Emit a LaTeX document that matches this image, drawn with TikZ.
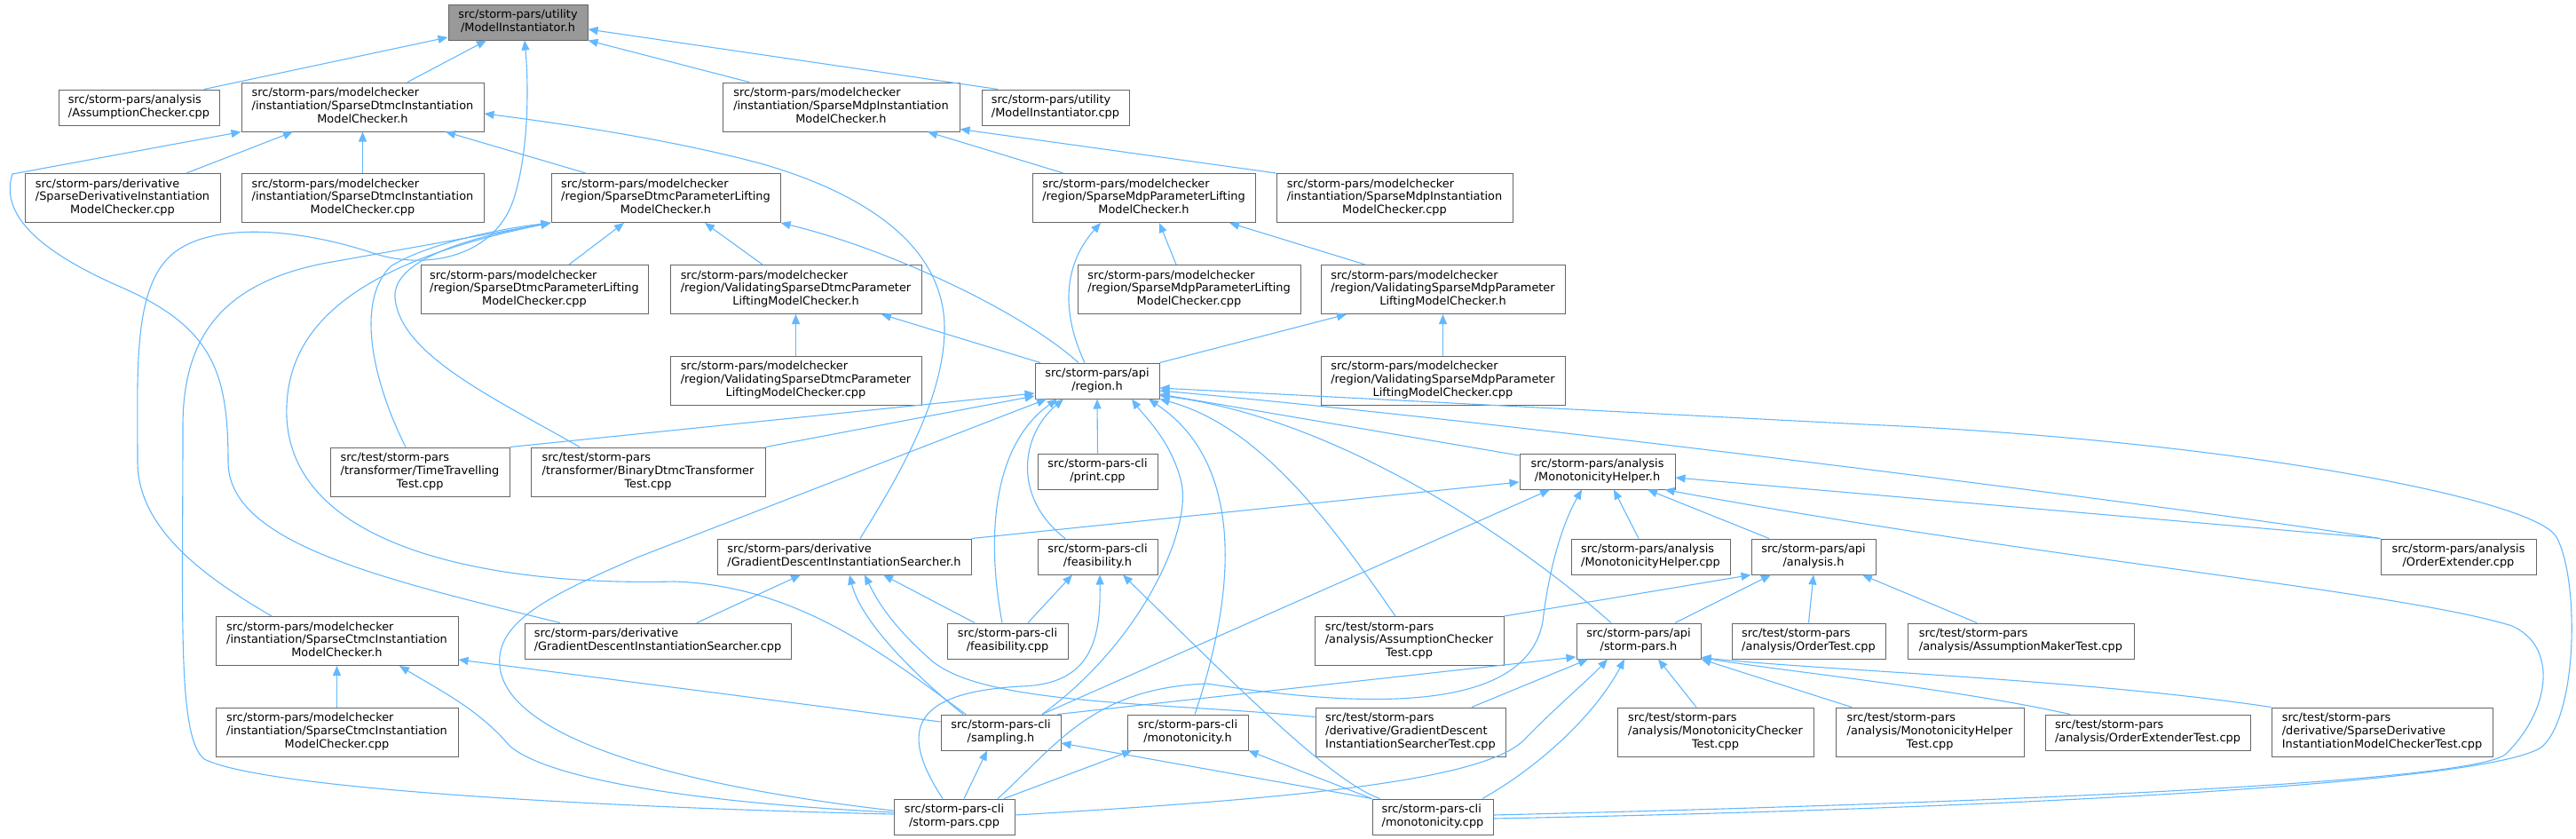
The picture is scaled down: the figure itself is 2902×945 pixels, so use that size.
\documentclass[tikz,border=0pt]{standalone}
\usepackage{fontspec}
\setmainfont{DejaVu Sans}
\usetikzlibrary{arrows.meta}
\definecolor{edgeblue}{RGB}{99,184,255}
\definecolor{boxgray}{RGB}{102,102,102}
\definecolor{rootgray}{RGB}{153,153,153}
% first lines left, last line centred
\newcommand{\flbl}[2]{\begin{tabular}{@{}l@{}}#1\\\multicolumn{1}{@{}c@{}}{#2}\end{tabular}}

\begin{document}
\begin{tikzpicture}[x=1pt, y=-1pt,
		file/.style={draw=boxgray, fill=white, line width=1pt, inner sep=0pt, minimum height=40},
		tall/.style={file, minimum height=55},
		root/.style={file, fill=rootgray},
		incl/.style={draw=edgeblue, line width=1.1pt, ->},
		>={Triangle[length=11pt,width=9pt]},   %Pfeilspitzen
		font=\fontsize{12.9}{14.6}\selectfont]
	\useasboundingbox (0,0) rectangle (2902,945);
	% Dateien
	\node[root, minimum width=157] (MI) at (583.5,25) {\flbl{src/storm-pars/utility}{/ModelInstantiator.h}};
	\node[file, minimum width=181] (ACcpp) at (156.5,121) {\flbl{src/storm-pars/analysis}{/AssumptionChecker.cpp}};
	\node[tall, minimum width=273] (SDI) at (408.5,120.5) {\flbl{src/storm-pars/modelchecker\\/instantiation/SparseDtmcInstantiation}{ModelChecker.h}};
	\node[tall, minimum width=267] (SMI) at (947.5,120.5) {\flbl{src/storm-pars/modelchecker\\/instantiation/SparseMdpInstantiation}{ModelChecker.h}};
	\node[file, minimum width=166] (MIcpp) at (1189,121) {\flbl{src/storm-pars/utility}{/ModelInstantiator.cpp}};
	\node[tall, minimum width=220] (SDcpp) at (138,223) {\flbl{src/storm-pars/derivative\\/SparseDerivativeInstantiation}{ModelChecker.cpp}};
	\node[tall, minimum width=273] (SDIcpp) at (408.5,223) {\flbl{src/storm-pars/modelchecker\\/instantiation/SparseDtmcInstantiation}{ModelChecker.cpp}};
	\node[tall, minimum width=258] (SDPL) at (750,223) {\flbl{src/storm-pars/modelchecker\\/region/SparseDtmcParameterLifting}{ModelChecker.h}};
	\node[tall, minimum width=251] (SMPL) at (1288.5,223) {\flbl{src/storm-pars/modelchecker\\/region/SparseMdpParameterLifting}{ModelChecker.h}};
	\node[tall, minimum width=266] (SMIcpp) at (1571,223) {\flbl{src/storm-pars/modelchecker\\/instantiation/SparseMdpInstantiation}{ModelChecker.cpp}};
	\node[tall, minimum width=256] (SDPLcpp) at (602,326) {\flbl{src/storm-pars/modelchecker\\/region/SparseDtmcParameterLifting}{ModelChecker.cpp}};
	\node[tall, minimum width=283] (VSD) at (896.5,326) {\flbl{src/storm-pars/modelchecker\\/region/ValidatingSparseDtmcParameter}{LiftingModelChecker.h}};
	\node[tall, minimum width=251] (SMPLcpp) at (1339.5,326) {\flbl{src/storm-pars/modelchecker\\/region/SparseMdpParameterLifting}{ModelChecker.cpp}};
	\node[tall, minimum width=275] (VSM) at (1625.5,326) {\flbl{src/storm-pars/modelchecker\\/region/ValidatingSparseMdpParameter}{LiftingModelChecker.h}};
	\node[tall, minimum width=283] (VSDcpp) at (896.5,428.5) {\flbl{src/storm-pars/modelchecker\\/region/ValidatingSparseDtmcParameter}{LiftingModelChecker.cpp}};
	\node[file, minimum width=140] (region) at (1236,429) {\flbl{src/storm-pars/api}{/region.h}};
	\node[tall, minimum width=275] (VSMcpp) at (1625.5,428.5) {\flbl{src/storm-pars/modelchecker\\/region/ValidatingSparseMdpParameter}{LiftingModelChecker.cpp}};
	\node[tall, minimum width=202] (TTT) at (473,531.5) {\flbl{src/test/storm-pars\\/transformer/TimeTravelling}{Test.cpp}};
	\node[tall, minimum width=264] (BDT) at (730,531.5) {\flbl{src/test/storm-pars\\/transformer/BinaryDtmcTransformer}{Test.cpp}};
	\node[file, minimum width=135] (print) at (1236.5,531) {\flbl{src/storm-pars-cli}{/print.cpp}};
	\node[file, minimum width=175] (MH) at (1799.5,531) {\flbl{src/storm-pars/analysis}{/MonotonicityHelper.h}};
	\node[file, minimum width=286] (GDS) at (951,627) {\flbl{src/storm-pars/derivative}{/GradientDescentInstantiationSearcher.h}};
	\node[file, minimum width=135] (feas) at (1236.5,627) {\flbl{src/storm-pars-cli}{/feasibility.h}};
	\node[file, minimum width=179] (MHcpp) at (1859.5,627) {\flbl{src/storm-pars/analysis}{/MonotonicityHelper.cpp}};
	\node[file, minimum width=140] (analysis) at (2043,627) {\flbl{src/storm-pars/api}{/analysis.h}};
	\node[file, minimum width=175] (OE) at (2769.5,627) {\flbl{src/storm-pars/analysis}{/OrderExtender.cpp}};
	\node[tall, minimum width=273] (SCI) at (379.5,722) {\flbl{src/storm-pars/modelchecker\\/instantiation/SparseCtmcInstantiation}{ModelChecker.h}};
	\node[file, minimum width=300] (GDScpp) at (741,722) {\flbl{src/storm-pars/derivative}{/GradientDescentInstantiationSearcher.cpp}};
	\node[file, minimum width=136] (feascpp) at (1135,722) {\flbl{src/storm-pars-cli}{/feasibility.cpp}};
	\node[tall, minimum width=213] (ACT) at (1587.5,722) {\flbl{src/test/storm-pars\\/analysis/AssumptionChecker}{Test.cpp}};
	\node[file, minimum width=140] (sp) at (1846,722) {\flbl{src/storm-pars/api}{/storm-pars.h}};
	\node[file, minimum width=173] (OT) at (2037.5,722) {\flbl{src/test/storm-pars}{/analysis/OrderTest.cpp}};
	\node[file, minimum width=255] (AMT) at (2276.5,722) {\flbl{src/test/storm-pars}{/analysis/AssumptionMakerTest.cpp}};
	\node[tall, minimum width=273] (SCIcpp) at (379.5,824.5) {\flbl{src/storm-pars/modelchecker\\/instantiation/SparseCtmcInstantiation}{ModelChecker.cpp}};
	\node[file, minimum width=135] (sampling) at (1127.5,825) {\flbl{src/storm-pars-cli}{/sampling.h}};
	\node[file, minimum width=136] (monoh) at (1338,825) {\flbl{src/storm-pars-cli}{/monotonicity.h}};
	\node[tall, minimum width=214] (GDST) at (1589,824.5) {\flbl{src/test/storm-pars\\/derivative/GradientDescent}{InstantiationSearcherTest.cpp}};
	\node[tall, minimum width=221] (MCT) at (1932.5,824.5) {\flbl{src/test/storm-pars\\/analysis/MonotonicityChecker}{Test.cpp}};
	\node[tall, minimum width=212] (MHT) at (2174,824.5) {\flbl{src/test/storm-pars\\/analysis/MonotonicityHelper}{Test.cpp}};
	\node[file, minimum width=231] (OET) at (2419.5,825) {\flbl{src/test/storm-pars}{/analysis/OrderExtenderTest.cpp}};
	\node[tall, minimum width=249] (SDT) at (2683.5,824.5) {\flbl{src/test/storm-pars\\/derivative/SparseDerivative}{InstantiationModelCheckerTest.cpp}};
	\node[file, minimum width=136] (spcpp) at (1075,920) {\flbl{src/storm-pars-cli}{/storm-pars.cpp}};
	\node[file, minimum width=136] (monocpp) at (1614,920) {\flbl{src/storm-pars-cli}{/monotonicity.cpp}};
	% gerade Kanten
	\foreach \s/\sx/\sy/\t/\tx/\ty in {
		ACcpp.north/73.5/0/MI.west/0/17, SDI.north/50.5/0/MI.south/-35.5/0,
		SMI.north/-103.5/0/MI.south east/0/0, MIcpp.north/-65/0/MI.east/0/8,
		SDcpp.north/72/0/SDI.south/-78.5/0, SDIcpp.north/0/0/SDI.south/0/0,
		SDPL.north/-90/0/SDI.south/93.5/0, SMPL.north/-90.5/0/SMI.south/97.5/0,
		SMIcpp.north west/0/0/SMI.south east/0/-3, SDPLcpp.north/39/0/SDPL.south/-47/0,
		VSD.north/-37.5/0/SDPL.south/44/0, VSDcpp.north/0/0/VSD.south/0/0,
		region.north/-64/0/VSD.south/96.5/0, SMPLcpp.north/-14.5/0/SMPL.south/17.5/0,
		VSM.north/-87.5/0/SMPL.south/96.5/0, VSMcpp.north/0/0/VSM.south/0/0,
		region.north east/0/0/VSM.south/-108.5/0, TTT.north east/0/0/region.west/0/14,
		BDT.north east/0/0/region.west/0/17, print.north/0/0/region.south/0/0,
		MH.west/0/-18/region.east/0/15, GDS.north east/0/0/MH.west/0/12,
		sampling.north/46.5/0/MH.south/-53.5/0, MHcpp.north/-13.5/0/MH.south/18.5/0,
		analysis.north/-50/0/MH.south/56.5/0, OE.north west/0/0/MH.east/0/7,
		GDScpp.north/44/0/GDS.south/-49/0, feascpp.north/-37/0/GDS.south/44/0,
		feascpp.north/23/0/feas.south/-28.5/0, spcpp.north/11/0/sampling.south/-15.5/0,
		monocpp.north west/0/0/sampling.east/0/12, sampling.west/0/-12/SCI.east/0/21,
		spcpp.north/56/0/monoh.south/-63/0, monocpp.north west/0/0/monoh.south east/0/0,
		SCIcpp.north/0/0/SCI.south/0/0, sampling.north east/-4/0/sp.west/0/18,
		GDST.north/69/0/sp.south/-57/0, MCT.north/-21.5/0/sp.south/22/0,
		MHT.north/-88/0/sp.south east/0/0, ACT.north east/0/0/analysis.south west/0/0,
		sp.north/41/0/analysis.south/-48/0, OT.north/0/0/analysis.south/0/0,
		AMT.north/-49.5/0/analysis.south/55/0}
		\draw[incl] ([shift={(\sx,\sy)}]\s) -- ([shift={(\tx,\ty)}]\t);
	% gebogene Kanten
	\draw[incl] ([xshift=-73.5]SCI.north) .. controls (240,655) and (155,600) .. (155,520) .. controls (155,420) and (150,330) .. (190,290) .. controls (230,250) and (330,255) .. (420,285) .. controls (480,305) and (560,290) .. (580,220) .. controls (595,170) and (596,100) .. ([xshift=7.5]MI.south);
	\draw[incl] ([xshift=-110]GDScpp.north) .. controls (420,650) and (257,610) .. (257,520) .. controls (257,420) and (240,370) .. (140,325) .. controls (40,282) and (0,240) .. (14,196) -- (SDI.south west);
	\draw[incl] ([xshift=18]GDS.north) .. controls (1010,540) and (1064,450) .. (1064,370) .. controls (1064,280) and (980,220) .. (860,185) .. controls (760,158) and (640,140) .. ([shift={(0,7.5)}]SDI.east);
	\draw[incl] ([xshift=-21]region.north) .. controls (1150,350) and (1000,280) .. (SDPL.south east);
	\draw[incl] ([xshift=-16]TTT.north) .. controls (420,430) and (400,340) .. (440,300) .. controls (480,275) and (560,258) .. (SDPL.south west);
	\draw[incl] ([xshift=-77]BDT.north) .. controls (560,450) and (450,400) .. (445,335) .. controls (442,290) and (540,265) .. (SDPL.south west);
	\draw[incl] ([xshift=-39.5]sampling.north) .. controls (1000,740) and (900,660) .. (760,655) .. controls (560,660) and (330,620) .. (323,470) .. controls (320,380) and (380,300) .. (SDPL.south west);
	\draw[incl] ([shift={(0,-3)}]spcpp.west) .. controls (700,910) and (300,890) .. (230,855) .. controls (200,830) and (206,700) .. (206,480) .. controls (206,380) and (250,320) .. (363,297) -- (SDPL.south west);
	\draw[incl] ([xshift=-14]region.north) .. controls (1190,340) and (1205,290) .. ([xshift=-48.5]SMPL.south);
	\draw[incl] ([shift={(0,-7)}]spcpp.west) .. controls (760,885) and (570,830) .. (563,750) .. controls (558,700) and (620,670) .. (720,627) -- ([xshift=-57]region.south);
	\draw[incl] ([xshift=-6]feascpp.north) .. controls (1110,600) and (1120,500) .. ([xshift=-45]region.south);
	\draw[incl] ([xshift=-36.5]feas.north) .. controls (1140,560) and (1150,490) .. ([xshift=-38]region.south);
	\draw[incl] ([xshift=46.5]sampling.north) .. controls (1290,720) and (1345,590) .. (1330,540) .. controls (1318,495) and (1290,470) .. ([xshift=39]region.south);
	\draw[incl] ([xshift=8]monoh.north) .. controls (1395,660) and (1400,520) .. ([xshift=58]region.south);
	\draw[incl] ([xshift=-15.5]ACT.north) .. controls (1500,590) and (1420,480) .. (region.south east);
	\draw[incl] ([xshift=-31]sp.north) .. controls (1700,600) and (1500,470) .. ([shift={(0,-4)}]region.south east);
	\draw[incl] (OE.north west) .. controls (2450,570) and (1700,475) .. ([shift={(0,11)}]region.east);
	\draw[incl] ([shift={(0,2)}]monocpp.east) .. controls (2300,910) and (2820,880) .. (2865,840) .. controls (2905,800) and (2905,650) .. (2880,605) .. controls (2855,560) and (2500,495) .. (2100,478) -- ([shift={(0,8)}]region.east);
	\draw[incl] ([shift={(0,-2)}]monocpp.east) .. controls (2300,903) and (2780,880) .. (2822,850) .. controls (2870,805) and (2885,730) .. (2830,705) .. controls (2700,665) and (2300,630) .. ([xshift=-12]MH.south east);
	\draw[incl] ([xshift=49]spcpp.north) .. controls (1190,840) and (1230,775) .. (1360,770) .. controls (1550,800) and (1720,800) .. (1738,700) .. controls (1745,640) and (1760,590) .. ([xshift=-17.5]MH.south);
	\draw[incl] ([xshift=-42.5]sampling.north) .. controls (1030,760) and (970,700) .. ([xshift=6]GDS.south);
	\draw[incl] ([shift={(0,-17)}]GDST.west) .. controls (1300,790) and (1100,795) .. (1045,740) .. controls (1000,700) and (985,670) .. ([xshift=23]GDS.south);
	\draw[incl] ([xshift=-13]spcpp.north) .. controls (1010,820) and (1030,780) .. (1150,773) .. controls (1230,771) and (1240,720) .. ([xshift=2.5]feas.south);
	\draw[incl] ([xshift=9]monocpp.north west) .. controls (1500,880) and (1400,780) .. ([xshift=28.5]feas.south);
	\draw[incl] ([shift={(0,-5)}]spcpp.west) .. controls (800,905) and (620,880) .. (574,840) .. controls (540,800) and (500,780) .. ([xshift=70.5]SCI.south);
	\draw[incl] ([shift={(0,-2)}]spcpp.east) .. controls (1450,900) and (1680,880) .. (1720,830) .. controls (1760,790) and (1790,765) .. ([xshift=-35]sp.south);
	\draw[incl] ([xshift=56]monocpp.north) .. controls (1740,860) and (1800,800) .. ([xshift=-16]sp.south);
	\draw[incl] ([xshift=-87.5]OET.north) .. controls (2200,775) and (2000,755) .. ([shift={(0,-2)}]sp.south east);
	\draw[incl] (SDT.north west) .. controls (2350,765) and (2050,755) .. ([shift={(0,-2)}]sp.south east);
\end{tikzpicture}
\end{document}
